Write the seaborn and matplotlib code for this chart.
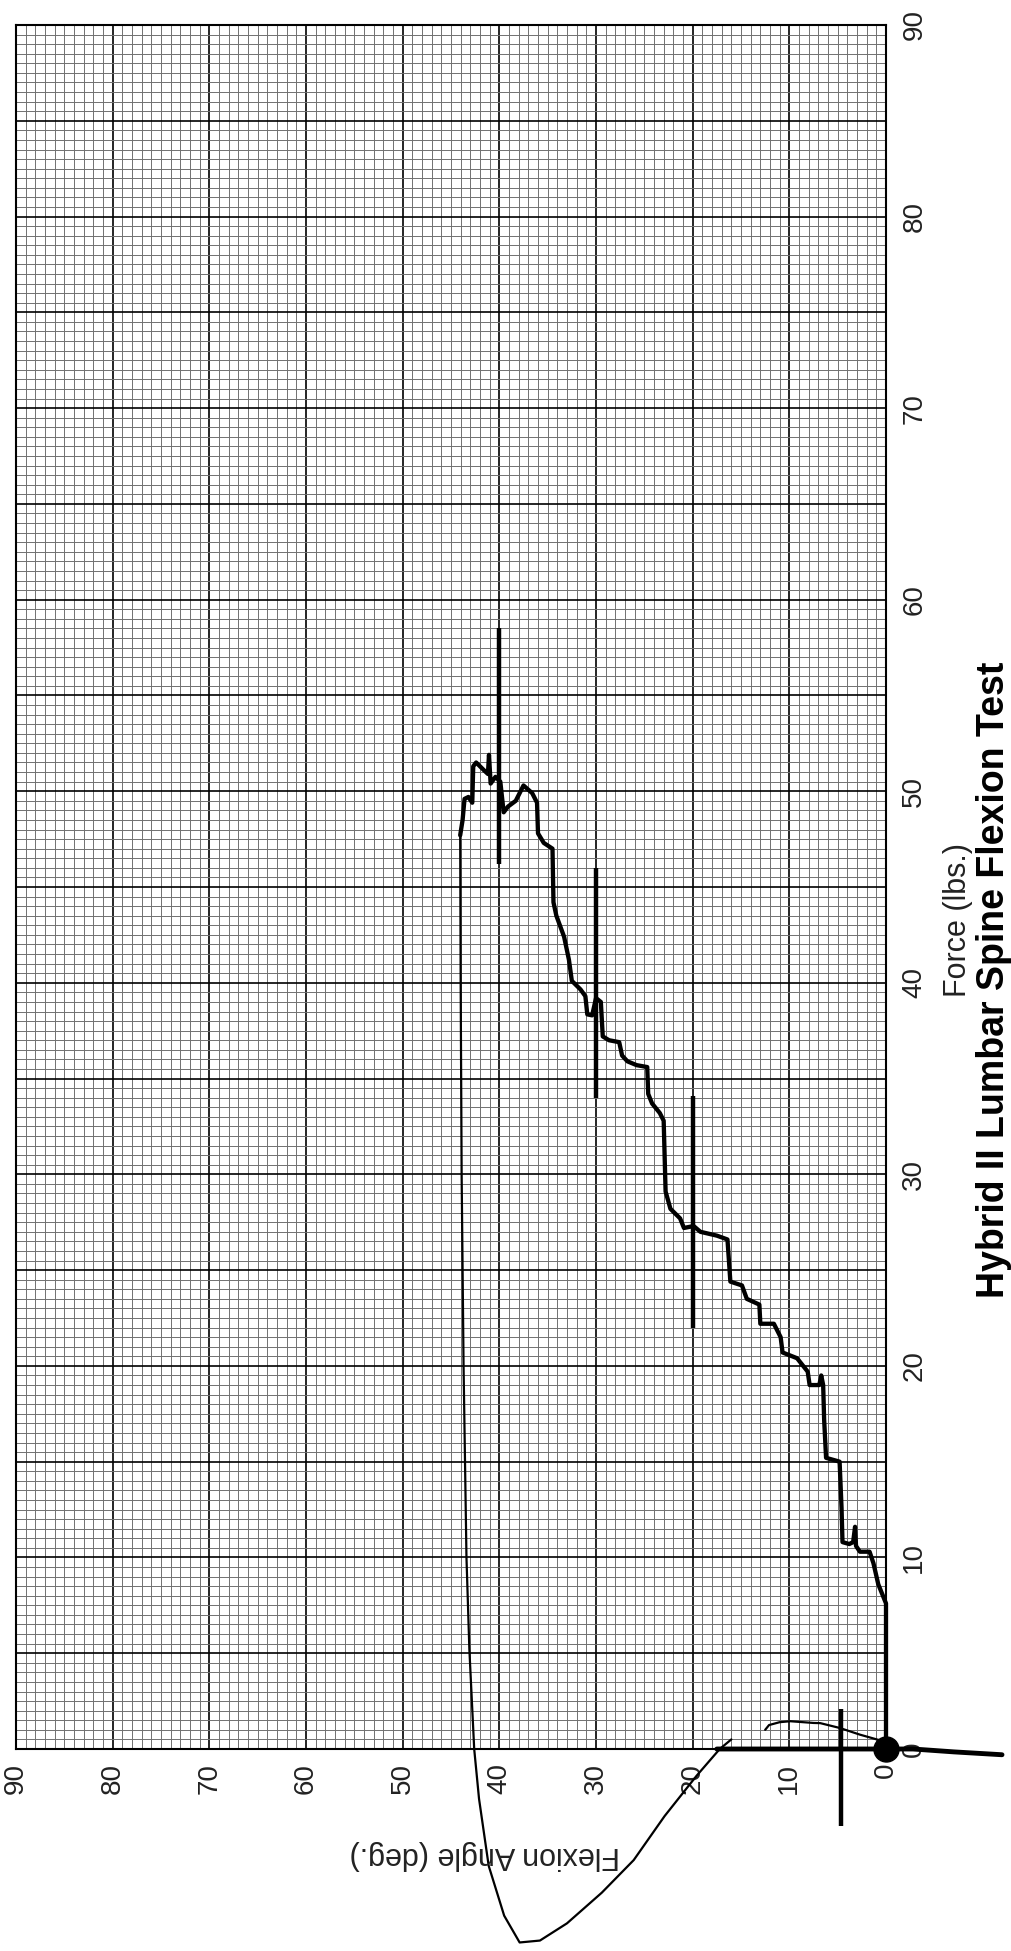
import numpy as np
import pandas as pd
import matplotlib
matplotlib.use('Agg')
import matplotlib.pyplot as plt
from matplotlib.ticker import MultipleLocator, FuncFormatter
import seaborn as sns

sns.set_theme(style='white')
plt.rcParams['font.family'] = ['Liberation Sans', 'DejaVu Sans']

# Loading curve (flexion angle in deg, force in lbs)
load_angle = [0, 0, 0.8, 1.3, 1.7, 2.7, 3.1, 3.2, 3.4, 3.8, 4.5, 4.6, 4.8, 6.2, 6.4, 6.5,
              6.7, 6.9, 7.9, 8.1, 9.2, 10.7, 10.9, 11.6, 13.0, 13.1, 14.4, 14.9, 16.1, 16.4,
              17.5, 19.2, 19.9, 20.9, 21.3, 22.3, 22.8, 23.0, 23.4, 24.2, 24.6, 24.7, 25.8,
              26.75, 27.3, 27.6, 28.65, 29.3, 29.5, 30.0, 30.4, 30.9, 31.1, 31.6, 32.5, 32.8,
              33.3, 34.1, 34.4, 34.5, 35.4, 36.0, 36.1, 36.6, 37.5, 38.3, 39.1, 39.55, 39.9,
              40.4, 40.9, 41.07, 41.18, 41.6, 42.4, 42.7, 42.8, 43.2, 43.6, 43.8, 44.05]
load_force = [0, 7.6, 8.6, 9.7, 10.3, 10.3, 10.6, 11.6, 10.8, 10.7, 10.8, 12.6, 15.0, 15.2, 17.2, 19.0,
              19.5, 19.0, 19.0, 19.7, 20.4, 20.7, 21.5, 22.2, 22.2, 23.2, 23.5, 24.2, 24.4, 26.6,
              26.8, 27.0, 27.3, 27.2, 27.7, 28.2, 29.1, 32.8, 33.2, 33.7, 34.2, 35.6, 35.7,
              35.9, 36.2, 36.9, 37.0, 37.2, 39.0, 39.2, 38.3, 38.35, 39.3, 39.65, 40.1, 41.2,
              42.4, 43.5, 44.2, 47.0, 47.3, 47.8, 49.4, 49.9, 50.3, 49.5, 49.2, 48.9, 50.5,
              50.75, 50.4, 51.9, 50.9, 51.1, 51.5, 51.3, 49.4, 49.7, 49.6, 48.5, 47.7]

# Unloading / return trace
ret_angle = [44.05, 44.0, 43.9, 43.7, 43.4, 43.1, 42.6, 42.1, 41.1, 39.5, 37.9, 35.8, 33.0,
             29.4, 26.1, 22.9, 19.6, 17.2, 16.0]
ret_force = [47.7, 40, 30, 20, 10, 5.2, 0, -2.6, -6.1, -8.7, -10.1, -10.0, -9.1,
             -7.5, -5.8, -3.5, -1.4, 0, 0.5]

# Heavy baseline trace along zero force
base_angle = [17.5, 10, 5, 0, -2.8, -7, -12]
base_force = [0, 0, 0, 0, 0, -0.15, -0.3]

# Small arc near origin
arc_angle = [12.5, 12.1, 11.0, 9.9, 7.5, 6.8, 4.8, 2.7, 0.6, 0]
arc_force = [1.0, 1.25, 1.4, 1.45, 1.36, 1.35, 1.1, 0.75, 0.45, 0.1]

# Vertical marker strokes
mark_angle = [4.7, 20, 30, 40]
mark_lo = [-4.0, 22.0, 34.0, 46.2]
mark_hi = [2.1, 34.1, 46.0, 58.5]

W, H = 1012, 1951
fig = plt.figure(figsize=(W / 100, H / 100), dpi=100)
fig.patch.set_facecolor('white')
ax = fig.add_axes([16 / W, (H - 1749) / H, 870 / W, 1724 / H])
ax.set_facecolor('white')

ax.set_xlim(90, 0)
ax.set_ylim(0, 90)

# graph paper grid
ax.xaxis.set_major_locator(MultipleLocator(10))
ax.xaxis.set_minor_locator(MultipleLocator(1))
ax.yaxis.set_major_locator(MultipleLocator(5))
ax.yaxis.set_minor_locator(MultipleLocator(0.5))
ax.grid(which='minor', color='#707070', lw=0.7)
ax.grid(which='major', color='black', lw=1.2)
ax.set_axisbelow(True)

ax.yaxis.tick_right()
ax.yaxis.set_major_formatter(FuncFormatter(lambda v, p: f'{int(v)}' if int(round(v)) % 10 == 0 else ''))
ax.xaxis.set_major_formatter(FuncFormatter(lambda v, p: f'{int(v)}'))
ax.tick_params(which='both', length=0)
ax.tick_params(axis='y', labelsize=20, pad=11, labelrotation=90, colors='#222222')
ax.tick_params(axis='x', labelsize=20, pad=10, labelrotation=90, colors='#222222')
for lab in ax.get_yticklabels():
    lab.set_verticalalignment('center')
for sp in ax.spines.values():
    sp.set_color('black')
    sp.set_linewidth(1.5)

# traces
sns.lineplot(x=ret_angle, y=ret_force, sort=False, estimator=None, ax=ax,
             color='black', lw=1.6, clip_on=False)
sns.lineplot(x=arc_angle, y=arc_force, sort=False, estimator=None, ax=ax,
             color='black', lw=1.6, clip_on=False)
sns.lineplot(x=base_angle, y=base_force, sort=False, estimator=None, ax=ax,
             color='black', lw=3.5, clip_on=False)
sns.lineplot(x=load_angle, y=load_force, sort=False, estimator=None, ax=ax,
             color='black', lw=3.1, clip_on=False)
ax.vlines(mark_angle, mark_lo, mark_hi, color='black', lw=3.2, clip_on=False)
ax.plot([0], [0], 'o', color='black', ms=18, clip_on=False)

ax.set_xlabel('')
ax.set_ylabel('')

fig.text(485 / W, 1 - 1855 / H, 'Flexion Angle (deg.)', rotation=180, fontsize=22,
         ha='center', va='center', color='#222222')
fig.text(958 / W, 1 - 920 / H, 'Force (lbs.)', rotation=90, fontsize=22,
         ha='center', va='center', color='#222222')
fig.text(994 / W, 1 - 980 / H, 'Hybrid II Lumbar Spine Flexion Test', rotation=90,
         fontsize=27, fontweight='bold', ha='center', va='center', color='black')

fig.savefig('out.png', dpi=100, facecolor='white')
